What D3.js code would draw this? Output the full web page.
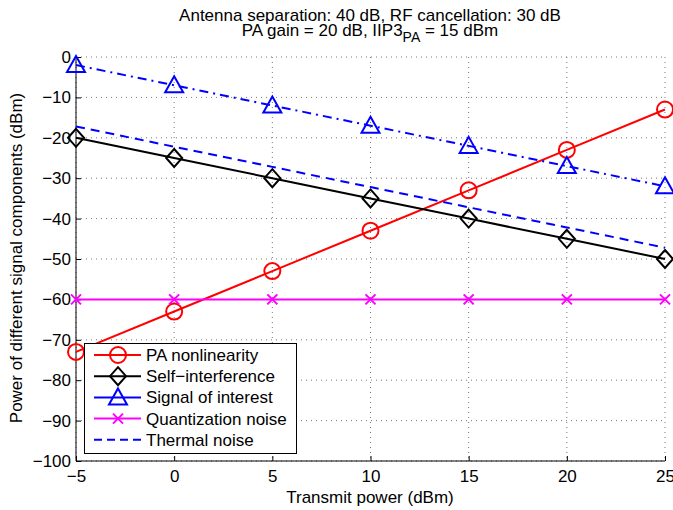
<!DOCTYPE html>
<html>
<head>
<meta charset="utf-8">
<script src="https://d3js.org/d3.v7.min.js"></script>
<style>
  body { margin: 0; background: #fff; }
  text { font-family: "Liberation Sans", Arial, sans-serif; }
</style>
</head>
<body>
<svg id="vis" width="673" height="510"></svg>
<script>
// data
var txPower = [-5, 0, 5, 10, 15, 20, 25];
var paNonlinearity = [-73, -63, -53, -43, -33, -23, -13];
var selfInterference = [-20, -25, -30, -35, -40, -45, -50];
var signalOfInterest = [-2, -7, -12, -17, -22, -27, -32];
var quantizationNoise = [-60, -60, -60, -60, -60, -60, -60];
var thermalNoise = [-17.2, -22.2, -27.2, -32.2, -37.2, -42.2, -47.2];
var xTicks = [-5, 0, 5, 10, 15, 20, 25];
var yTicks = [0, -10, -20, -30, -40, -50, -60, -70, -80, -90, -100];

var series = [
  { name: "PA nonlinearity", values: paNonlinearity, color: "#ff0000", marker: "circle", dash: null, legendDash: null },
  { name: "Self\u2212interference", values: selfInterference, color: "#000000", marker: "diamond", dash: null, legendDash: null },
  { name: "Signal of interest", values: signalOfInterest, color: "#0000ff", marker: "triangle", dash: "9,5,2,5", legendDash: null },
  { name: "Quantization noise", values: quantizationNoise, color: "#ff00ff", marker: "x", dash: null, legendDash: null },
  { name: "Thermal noise", values: thermalNoise, color: "#0000ff", marker: null, dash: "9,6", legendDash: "8,5" }
];

var FS = 17;
var svg = d3.select("#vis");
var mLeft = 76, mRight = 665, mTop = 57, mBottom = 461;

var x = d3.scaleLinear().domain([-5, 25]).range([mLeft, mRight]);
var y = d3.scaleLinear().domain([-100, 0]).range([mBottom, mTop]);

function fmt(d) { return d < 0 ? "\u2212" + Math.abs(d) : d; }

// grid
var grid = svg.append("g");
grid.selectAll(".gx").data(xTicks).enter().append("line")
  .attr("x1", d => x(d)).attr("x2", d => x(d))
  .attr("y1", mTop).attr("y2", mBottom)
  .attr("stroke", "#555").attr("stroke-width", 0.8).attr("stroke-dasharray", "1,4");
grid.selectAll(".gy").data(yTicks).enter().append("line")
  .attr("x1", mLeft).attr("x2", mRight)
  .attr("y1", d => y(d)).attr("y2", d => y(d))
  .attr("stroke", "#555").attr("stroke-width", 0.8).attr("stroke-dasharray", "1,4");

// axes
var xAxis = svg.append("g")
  .attr("transform", "translate(0," + mBottom + ")")
  .call(d3.axisBottom(x).tickValues(xTicks).tickSize(-5).tickPadding(9).tickFormat(fmt));
var yAxis = svg.append("g")
  .attr("transform", "translate(" + mLeft + ",0)")
  .call(d3.axisLeft(y).tickValues(yTicks).tickSize(-5).tickPadding(5).tickFormat(fmt));
[xAxis, yAxis].forEach(function(a) {
  a.select(".domain").attr("stroke", "#000").attr("stroke-width", 1);
  a.selectAll(".tick line").attr("stroke", "#000");
  a.selectAll("text").attr("font-size", FS).attr("fill", "#000")
    .style("font-family", "Liberation Sans, Arial, sans-serif");
});
xAxis.select(".domain").attr("d", "M" + mLeft + ",0H" + mRight);
yAxis.select(".domain").attr("d", "M0," + mTop + "V" + mBottom);

// marker drawing
function drawMarker(g, type, color, cx, cy) {
  if (type === "circle") {
    g.append("circle").attr("cx", cx).attr("cy", cy).attr("r", 8)
      .attr("fill", "none").attr("stroke", color).attr("stroke-width", 2);
  } else if (type === "diamond") {
    g.append("path").attr("d", "M" + cx + "," + (cy - 9) + "L" + (cx + 8) + "," + cy + "L" + cx + "," + (cy + 9) + "L" + (cx - 8) + "," + cy + "Z")
      .attr("fill", "none").attr("stroke", color).attr("stroke-width", 2);
  } else if (type === "triangle") {
    g.append("path").attr("d", "M" + cx + "," + (cy - 9) + "L" + (cx + 9) + "," + (cy + 7) + "L" + (cx - 9) + "," + (cy + 7) + "Z")
      .attr("fill", "none").attr("stroke", color).attr("stroke-width", 2);
  } else if (type === "x") {
    g.append("path").attr("d", "M" + (cx - 5) + "," + (cy - 5) + "L" + (cx + 5) + "," + (cy + 5) + "M" + (cx + 5) + "," + (cy - 5) + "L" + (cx - 5) + "," + (cy + 5))
      .attr("fill", "none").attr("stroke", color).attr("stroke-width", 2);
  }
}

var line = d3.line().x((d, i) => x(txPower[i])).y(d => y(d));

var plot = svg.append("g");
series.forEach(function(s) {
  var g = plot.append("g");
  g.append("path").attr("d", line(s.values))
    .attr("fill", "none").attr("stroke", s.color).attr("stroke-width", 2)
    .attr("stroke-dasharray", s.dash);
  if (s.marker) {
    s.values.forEach(function(v, i) { drawMarker(g, s.marker, s.color, x(txPower[i]), y(v)); });
  }
});

// legend
var lg = svg.append("g");
lg.append("rect").attr("x", 84.5).attr("y", 343.5).attr("width", 212).attr("height", 110)
  .attr("fill", "#fff").attr("stroke", "#000").attr("stroke-width", 1);
series.forEach(function(s, i) {
  var ly = 355 + i * 21.2;
  lg.append("line").attr("x1", 94).attr("x2", 141).attr("y1", ly).attr("y2", ly)
    .attr("stroke", s.color).attr("stroke-width", 2).attr("stroke-dasharray", s.legendDash);
  if (s.marker) drawMarker(lg, s.marker, s.color, 118, ly);
  lg.append("text").attr("x", 146).attr("y", ly + 6).attr("font-size", FS).text(s.name);
});

// titles
svg.append("text").attr("x", 370).attr("y", 21).attr("text-anchor", "middle").attr("font-size", FS)
  .text("Antenna separation: 40 dB, RF cancellation: 30 dB");
var t2 = svg.append("text").attr("x", 370).attr("y", 36).attr("text-anchor", "middle").attr("font-size", FS);
t2.append("tspan").text("PA gain = 20 dB, IIP3");
t2.append("tspan").attr("dy", 6).attr("font-size", 14).text("PA");
t2.append("tspan").attr("dy", -6).text(" = 15 dBm");

svg.append("text").attr("x", 370).attr("y", 503).attr("text-anchor", "middle").attr("font-size", FS)
  .text("Transmit power (dBm)");
svg.append("text").attr("transform", "translate(22,258) rotate(-90)").attr("text-anchor", "middle").attr("font-size", FS)
  .text("Power of different signal components (dBm)");
</script>
</body>
</html>
